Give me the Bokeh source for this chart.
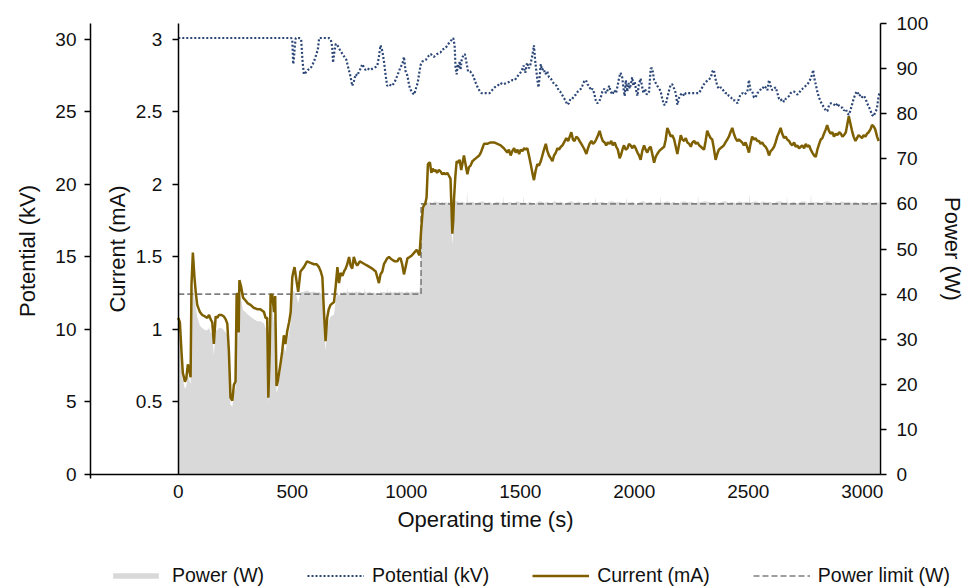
from bokeh.plotting import figure
from bokeh.models import (Range1d, LinearAxis, FixedTicker, Legend, LegendItem,
                          NumeralTickFormatter)
from bokeh.embed import file_html
from bokeh.resources import INLINE

# ---------------- data ----------------
x_ticks = [0, 500, 1000, 1500, 2000, 2500, 3000]
potential_ticks = [0, 5, 10, 15, 20, 25, 30]
current_ticks = [0.5, 1, 1.5, 2, 2.5, 3]
power_ticks = [0, 10, 20, 30, 40, 50, 60, 70, 80, 90, 100]

# (time s, current mA)
current_series = [
    (0, 1.08), (7, 1.05), (14, 0.85), (20, 0.70), (25, 0.67), (29, 0.64), (35, 0.66), (42, 0.76),
    (48, 0.72), (54, 0.67), (58, 1.31), (64, 1.53), (71, 1.36), (77, 1.25), (83, 1.17), (95, 1.12),
    (105, 1.10), (117, 1.09), (127, 1.08), (135, 1.10), (142, 1.07), (149, 1.05), (156, 0.90),
    (164, 1.09), (171, 1.08), (178, 1.10), (190, 1.10), (200, 1.09), (208, 1.07), (215, 1.04),
    (222, 0.85), (229, 0.53), (237, 0.51), (244, 0.62), (251, 0.64), (256, 1.24), (261, 1.25),
    (265, 0.98), (268, 1.34), (275, 1.30), (284, 1.22), (295, 1.20), (305, 1.18), (317, 1.17),
    (330, 1.15), (346, 1.14), (360, 1.14), (376, 1.12), (383, 1.08), (390, 1.08), (395, 0.53),
    (401, 0.85), (405, 1.24), (412, 1.24), (420, 1.12), (425, 1.23), (431, 0.61), (436, 0.64),
    (442, 0.70), (449, 0.77), (456, 0.85), (463, 0.96), (470, 0.90), (478, 0.99), (486, 1.05),
    (493, 1.12), (500, 1.36), (505, 1.40), (510, 1.43), (519, 1.33), (526, 1.26), (536, 1.40),
    (551, 1.43), (565, 1.47), (580, 1.46), (595, 1.45), (607, 1.45), (617, 1.43), (625, 1.40),
    (632, 1.36), (639, 1.12), (646, 0.92), (653, 1.08), (660, 1.14), (668, 1.17), (683, 1.19),
    (690, 1.29), (698, 1.43), (705, 1.32), (712, 1.39), (720, 1.37), (727, 1.40), (734, 1.42),
    (741, 1.45), (749, 1.50), (756, 1.44), (763, 1.42), (770, 1.50), (778, 1.46), (785, 1.44),
    (796, 1.47), (807, 1.46), (818, 1.45), (829, 1.44), (840, 1.43), (851, 1.42), (858, 1.41),
    (866, 1.40), (873, 1.36), (880, 1.32), (887, 1.38), (895, 1.40), (902, 1.45), (909, 1.47),
    (916, 1.49), (924, 1.50), (931, 1.49), (939, 1.48), (950, 1.47), (961, 1.47), (968, 1.49),
    (975, 1.49), (982, 1.45), (990, 1.38), (997, 1.43), (1005, 1.49), (1015, 1.50), (1024, 1.51),
    (1035, 1.53), (1046, 1.55), (1052, 1.53), (1058, 1.51), (1065, 1.68), (1073, 1.84),
    (1078, 1.86), (1082, 1.86), (1089, 1.91), (1095, 2.14), (1100, 2.15), (1104, 2.15),
    (1110, 2.08), (1116, 2.11), (1121, 2.09), (1128, 2.10), (1135, 2.08), (1143, 2.10),
    (1150, 2.09), (1158, 2.07), (1165, 2.08), (1172, 2.07), (1180, 2.08), (1187, 2.06),
    (1194, 2.04), (1198, 1.85), (1202, 1.66), (1206, 1.75), (1209, 1.89), (1215, 2.05),
    (1221, 2.16), (1228, 2.15), (1234, 2.17), (1241, 2.10), (1247, 2.15), (1253, 2.20),
    (1260, 2.14), (1268, 2.07), (1275, 2.12), (1282, 2.13), (1290, 2.16), (1297, 2.17),
    (1305, 2.18), (1312, 2.19), (1320, 2.20), (1327, 2.22), (1334, 2.25), (1341, 2.28),
    (1355, 2.28), (1370, 2.29), (1385, 2.29), (1400, 2.28), (1414, 2.27), (1428, 2.25),
    (1443, 2.22), (1450, 2.24), (1458, 2.20), (1465, 2.23), (1473, 2.25), (1480, 2.22),
    (1488, 2.24), (1495, 2.21), (1502, 2.24), (1510, 2.23), (1517, 2.25), (1524, 2.24),
    (1531, 2.25), (1538, 2.20), (1546, 2.14), (1553, 2.08), (1560, 2.03), (1568, 2.10),
    (1575, 2.14), (1582, 2.13), (1590, 2.16), (1597, 2.20), (1604, 2.24), (1612, 2.28),
    (1619, 2.23), (1626, 2.20), (1634, 2.18), (1641, 2.16), (1648, 2.20), (1656, 2.22),
    (1663, 2.25), (1670, 2.24), (1678, 2.26), (1685, 2.27), (1692, 2.29), (1702, 2.32),
    (1710, 2.30), (1717, 2.33), (1724, 2.36), (1731, 2.31), (1738, 2.30), (1746, 2.33),
    (1753, 2.32), (1760, 2.30), (1768, 2.28), (1775, 2.26), (1782, 2.24), (1790, 2.21),
    (1797, 2.25), (1804, 2.28), (1812, 2.30), (1819, 2.28), (1826, 2.29), (1833, 2.31),
    (1841, 2.34), (1848, 2.37), (1855, 2.33), (1862, 2.30), (1870, 2.29), (1877, 2.27),
    (1884, 2.29), (1892, 2.28), (1899, 2.30), (1906, 2.27), (1914, 2.29), (1921, 2.26),
    (1928, 2.24), (1936, 2.18), (1943, 2.21), (1950, 2.25), (1955, 2.27), (1962, 2.24),
    (1970, 2.25), (1977, 2.28), (1984, 2.27), (1992, 2.25), (1999, 2.27), (2006, 2.25),
    (2014, 2.22), (2021, 2.20), (2028, 2.17), (2035, 2.23), (2043, 2.27), (2050, 2.24),
    (2057, 2.22), (2065, 2.25), (2072, 2.26), (2079, 2.21), (2087, 2.15), (2094, 2.19),
    (2101, 2.21), (2109, 2.23), (2116, 2.24), (2123, 2.25), (2131, 2.26), (2138, 2.31),
    (2145, 2.39), (2153, 2.36), (2160, 2.33), (2167, 2.34), (2175, 2.31), (2182, 2.26),
    (2189, 2.21), (2197, 2.28), (2204, 2.34), (2211, 2.31), (2219, 2.30), (2226, 2.32),
    (2233, 2.29), (2241, 2.28), (2248, 2.26), (2255, 2.29), (2263, 2.30), (2270, 2.28),
    (2277, 2.29), (2285, 2.27), (2292, 2.26), (2299, 2.25), (2306, 2.24), (2313, 2.30),
    (2320, 2.37), (2328, 2.34), (2335, 2.32), (2342, 2.31), (2349, 2.25), (2357, 2.17),
    (2364, 2.21), (2371, 2.24), (2378, 2.25), (2386, 2.26), (2393, 2.27), (2400, 2.29),
    (2408, 2.31), (2415, 2.33), (2422, 2.36), (2430, 2.39), (2437, 2.35), (2444, 2.32),
    (2452, 2.30), (2459, 2.31), (2466, 2.30), (2473, 2.29), (2481, 2.27), (2488, 2.29),
    (2495, 2.26), (2503, 2.22), (2510, 2.28), (2517, 2.33), (2525, 2.31), (2532, 2.32),
    (2539, 2.30), (2547, 2.30), (2554, 2.28), (2561, 2.29), (2569, 2.27), (2576, 2.26),
    (2583, 2.24), (2591, 2.20), (2598, 2.23), (2605, 2.24), (2613, 2.26), (2620, 2.29),
    (2627, 2.33), (2635, 2.36), (2642, 2.39), (2649, 2.35), (2657, 2.32), (2664, 2.33),
    (2671, 2.31), (2679, 2.30), (2686, 2.28), (2693, 2.27), (2701, 2.29), (2708, 2.26),
    (2715, 2.27), (2723, 2.25), (2730, 2.26), (2737, 2.27), (2745, 2.25), (2752, 2.28),
    (2759, 2.26), (2767, 2.27), (2774, 2.24), (2781, 2.22), (2789, 2.20), (2796, 2.19),
    (2803, 2.24), (2811, 2.28), (2818, 2.31), (2825, 2.32), (2832, 2.35), (2840, 2.38),
    (2846, 2.41), (2854, 2.37), (2861, 2.35), (2869, 2.36), (2876, 2.33), (2884, 2.35),
    (2891, 2.34), (2899, 2.36), (2906, 2.35), (2913, 2.33), (2920, 2.34), (2928, 2.36),
    (2935, 2.42), (2941, 2.47), (2948, 2.42), (2955, 2.37), (2962, 2.33), (2970, 2.30),
    (2977, 2.32), (2984, 2.34), (2992, 2.33), (2999, 2.32), (3006, 2.34), (3014, 2.33),
    (3021, 2.35), (3028, 2.36), (3036, 2.38), (3043, 2.41), (3050, 2.40), (3057, 2.38),
    (3065, 2.33), (3072, 2.30),
]

# (time s, potential kV)
potential_series = [
    (0, 30.1), (100, 30.1), (200, 30.1), (300, 30.1), (400, 30.1), (495, 30.1), (500, 30.0),
    (504, 28.3), (507, 28.6), (511, 29.5), (515, 30.1), (530, 30.1), (539, 30.0), (545, 28.5),
    (551, 27.6), (558, 27.7), (568, 27.9), (580, 28.0), (590, 28.3), (598, 28.6), (604, 28.9),
    (612, 29.3), (618, 30.1), (634, 30.1), (660, 30.1), (669, 30.0), (675, 29.5), (679, 28.4),
    (685, 29.2), (691, 29.7), (698, 29.6), (708, 29.3), (720, 29.0), (737, 28.6), (748, 27.9),
    (756, 27.4), (763, 26.8), (770, 27.1), (778, 27.6), (785, 27.5), (793, 27.8), (800, 28.0),
    (807, 28.3), (814, 28.1), (821, 27.9), (829, 28.0), (843, 27.9), (853, 28.0), (866, 28.1),
    (873, 28.2), (880, 28.8), (887, 29.6), (895, 29.2), (902, 28.5), (909, 27.6), (916, 26.8),
    (924, 26.9), (938, 26.8), (950, 27.1), (958, 27.4), (968, 27.8), (975, 28.1), (983, 28.3),
    (990, 28.8), (997, 27.8), (1005, 27.5), (1013, 26.8), (1020, 26.5), (1028, 26.3),
    (1035, 26.2), (1042, 26.6), (1050, 27.0), (1058, 27.8), (1064, 28.3), (1072, 28.5),
    (1086, 28.6), (1100, 28.9), (1107, 29.0), (1121, 28.8), (1136, 29.0), (1150, 29.1),
    (1158, 29.3), (1172, 29.4), (1185, 29.7), (1195, 29.9), (1206, 30.1), (1212, 29.6),
    (1216, 28.1), (1221, 27.6), (1226, 28.3), (1230, 28.0), (1234, 28.5), (1238, 27.9),
    (1243, 28.6), (1250, 28.9), (1257, 29.0), (1264, 28.4), (1271, 27.8), (1280, 27.8),
    (1290, 27.6), (1298, 27.3), (1305, 27.0), (1313, 26.7), (1320, 26.5), (1330, 26.3),
    (1345, 26.3), (1356, 26.3), (1366, 26.3), (1376, 26.5), (1388, 26.7), (1400, 26.8),
    (1413, 27.0), (1425, 26.9), (1440, 27.0), (1455, 27.1), (1466, 27.2), (1476, 27.2),
    (1490, 27.5), (1505, 27.8), (1515, 28.2), (1522, 27.7), (1530, 28.4), (1538, 28.0),
    (1545, 28.3), (1553, 28.9), (1560, 29.6), (1565, 28.6), (1570, 27.9), (1575, 27.2),
    (1580, 26.7), (1586, 27.6), (1590, 28.3), (1595, 27.9), (1602, 28.0), (1610, 27.6),
    (1618, 27.8), (1626, 27.4), (1634, 27.3), (1641, 27.1), (1650, 26.9), (1660, 26.8),
    (1668, 26.5), (1675, 26.4), (1683, 26.2), (1690, 26.0), (1698, 25.8), (1706, 25.5),
    (1713, 25.6), (1720, 25.9), (1728, 25.9), (1736, 26.1), (1744, 26.2), (1752, 26.4),
    (1760, 26.5), (1766, 26.6), (1772, 26.8), (1780, 27.1), (1788, 27.2), (1795, 26.9),
    (1802, 26.8), (1810, 26.5), (1817, 26.6), (1824, 26.3), (1831, 25.8), (1838, 25.6),
    (1846, 25.7), (1853, 26.0), (1860, 26.4), (1868, 26.6), (1876, 26.3), (1883, 26.5),
    (1890, 26.8), (1897, 26.4), (1904, 26.2), (1912, 26.5), (1920, 26.3), (1927, 26.8),
    (1934, 27.4), (1940, 27.7), (1947, 27.4), (1953, 26.6), (1958, 26.1), (1963, 27.2),
    (1969, 26.4), (1975, 27.0), (1980, 26.6), (1985, 26.9), (1991, 27.4), (1996, 26.8),
    (2002, 27.1), (2008, 26.5), (2014, 26.1), (2020, 26.9), (2028, 27.3), (2035, 26.7),
    (2040, 26.3), (2047, 26.6), (2055, 26.2), (2065, 26.4), (2072, 28.0), (2079, 28.0),
    (2087, 27.2), (2094, 27.0), (2101, 26.8), (2110, 26.6), (2116, 26.4), (2123, 25.9),
    (2130, 25.5), (2138, 25.5), (2145, 26.0), (2153, 26.5), (2160, 26.9), (2167, 26.9),
    (2175, 26.6), (2182, 26.3), (2189, 25.5), (2197, 26.0), (2204, 26.2), (2211, 26.3),
    (2219, 26.1), (2226, 26.3), (2240, 26.3), (2255, 26.3), (2270, 26.3), (2284, 26.3),
    (2295, 26.6), (2305, 26.9), (2316, 27.1), (2327, 27.2), (2336, 27.4), (2343, 27.8),
    (2349, 27.9), (2356, 27.3), (2364, 26.8), (2371, 26.6), (2380, 26.7), (2390, 26.5),
    (2400, 26.3), (2408, 26.3), (2415, 26.1), (2424, 26.0), (2433, 25.8), (2440, 25.8),
    (2447, 25.7), (2453, 25.6), (2460, 26.0), (2467, 26.2), (2475, 26.3), (2482, 26.2),
    (2490, 26.3), (2496, 26.4), (2503, 27.2), (2510, 26.5), (2518, 26.4), (2525, 26.0),
    (2532, 26.0), (2540, 26.3), (2548, 26.4), (2556, 26.6), (2563, 26.6), (2569, 26.8),
    (2576, 26.7), (2584, 26.5), (2591, 27.2), (2598, 26.8), (2605, 26.5), (2613, 26.6),
    (2620, 26.7), (2628, 26.3), (2635, 25.9), (2642, 25.8), (2649, 25.9), (2657, 25.7),
    (2664, 25.9), (2672, 26.0), (2679, 26.1), (2686, 26.3), (2694, 26.4), (2701, 26.4),
    (2708, 26.3), (2716, 26.2), (2723, 26.3), (2730, 26.5), (2738, 26.6), (2745, 26.7),
    (2752, 26.8), (2760, 26.9), (2767, 27.1), (2774, 27.3), (2780, 27.6), (2785, 27.9),
    (2790, 27.3), (2796, 26.9), (2803, 26.4), (2810, 26.0), (2818, 25.7), (2825, 25.5),
    (2832, 25.3), (2840, 25.1), (2847, 25.05), (2855, 25.5), (2862, 25.6), (2870, 25.6),
    (2877, 25.5), (2884, 25.4), (2891, 25.6), (2899, 25.4), (2906, 25.3), (2913, 25.3),
    (2920, 25.1), (2928, 25.2), (2935, 24.9), (2941, 24.8), (2948, 25.1), (2955, 25.5),
    (2962, 25.9), (2969, 26.2), (2975, 26.4), (2979, 26.4), (2986, 26.1), (2993, 26.2),
    (3000, 26.0), (3008, 26.1), (3015, 25.9), (3021, 25.6), (3028, 25.4), (3036, 25.1),
    (3043, 24.8), (3050, 24.7), (3057, 25.0), (3064, 25.2), (3070, 25.9), (3075, 26.3),
]

# (time s, power W)
power_series = [
    (0, 31), (7, 31), (14, 25), (20, 21), (25, 20), (29, 19), (35, 19.5), (42, 22), (48, 21),
    (54, 20), (58, 38), (64, 42), (71, 39), (77, 37), (83, 35), (95, 33), (105, 32.5), (117, 32),
    (127, 32), (135, 32.5), (142, 31.5), (149, 31), (156, 26.5), (164, 32), (171, 32),
    (178, 32.5), (190, 32.5), (200, 32), (208, 31.5), (215, 31), (222, 25), (229, 15.5),
    (237, 15), (244, 18), (251, 19), (256, 37), (261, 37.5), (265, 29), (268, 40), (275, 39),
    (284, 36.5), (295, 36), (305, 35.5), (317, 35), (330, 34.5), (346, 34), (360, 34),
    (376, 33.5), (383, 32.5), (390, 32.5), (395, 15.5), (401, 25), (405, 37), (412, 37),
    (420, 33.5), (425, 37), (431, 18), (436, 19), (442, 21), (449, 23), (456, 25.5), (463, 28.5),
    (470, 27), (478, 29.5), (486, 31.5), (493, 33.5), (500, 40), (505, 40.8), (510, 40.4),
    (519, 39.5), (526, 38), (536, 40.4), (551, 40.5), (565, 40.8), (580, 40.4), (595, 40.6),
    (607, 40.3), (617, 40.5), (625, 40.2), (632, 40), (639, 33.5), (646, 27.5), (653, 32),
    (660, 34), (668, 35), (683, 35.5), (690, 38.5), (698, 40.6), (705, 39.5), (712, 40.4),
    (720, 40.2), (727, 40.6), (734, 40.3), (739, 40.4), (741, 41.5), (743, 40.4), (749, 40.5),
    (756, 40.3), (763, 40.6), (770, 40.3), (778, 40.6), (785, 40.4), (796, 40.6), (807, 40.2),
    (816, 40.4), (818, 41.4), (820, 40.4), (829, 40.3), (840, 40.5), (851, 40.2), (858, 40.4),
    (866, 40.1), (873, 40.3), (880, 39.5), (887, 40.6), (895, 40.3), (902, 40.6), (909, 40.3),
    (914, 40.4), (916, 41.6), (918, 40.4), (924, 40.4), (931, 40.6), (939, 40.3), (950, 40.5),
    (961, 40.3), (968, 40.6), (975, 40.4), (982, 40.6), (990, 40.2), (997, 40.5),
    (1005, 40.6), (1015, 40.3), (1024, 40.5), (1035, 40.4), (1046, 40.6), (1052, 40.4),
    (1058, 40.6), (1062, 45), (1066, 52), (1070, 58), (1075, 60.3), (1082, 60.3), (1088, 60.4),
    (1090, 61.8), (1092, 60.4), (1098, 60.2), (1105, 60.5), (1112, 60.1), (1120, 60.4),
    (1128, 60.6), (1135, 60.3), (1143, 60.5), (1150, 60.1), (1158, 60.5), (1165, 60.2),
    (1172, 60.4), (1180, 60.2), (1187, 60.5), (1194, 59.5), (1198, 55), (1202, 51), (1206, 54),
    (1209, 58), (1214, 61.0), (1218, 60.5), (1225, 60.6), (1232, 60.3), (1245, 60.5),
    (1258, 60.2), (1265, 60.3), (1267, 62.8), (1269, 60.3), (1290, 60.5), (1305, 60.1),
    (1320, 60.4), (1335, 60.6), (1350, 60.2), (1365, 60.4), (1380, 60.0), (1395, 60.5),
    (1410, 60.3), (1423, 60.2), (1425, 61.8), (1427, 60.3), (1440, 60.2), (1455, 60.5),
    (1470, 60.1), (1485, 60.6), (1500, 60.3), (1513, 60.2), (1515, 62.0), (1517, 60.3),
    (1530, 60.2), (1545, 60.5), (1560, 59.6), (1575, 60.4), (1590, 60.6), (1605, 60.2),
    (1620, 60.5), (1635, 60.1), (1650, 60.6), (1665, 60.3), (1680, 60.5), (1695, 60.0),
    (1710, 60.4), (1725, 60.6), (1740, 60.2), (1755, 60.5), (1770, 60.3), (1785, 59.8),
    (1800, 60.5), (1815, 60.2), (1828, 60.3), (1830, 61.6), (1832, 60.3), (1845, 60.3),
    (1860, 60.5), (1875, 60.1), (1890, 60.5), (1905, 60.6), (1920, 60.3), (1935, 60.5),
    (1950, 60.2), (1963, 60.3), (1965, 61.5), (1967, 60.3), (1980, 60.3), (1995, 60.5),
    (2010, 59.8), (2025, 60.4), (2040, 60.6), (2055, 60.2), (2070, 60.5), (2085, 60.1),
    (2100, 60.4), (2113, 60.3), (2115, 61.9), (2117, 60.3), (2130, 60.3), (2145, 60.6),
    (2160, 60.2), (2175, 60.5), (2190, 59.8), (2205, 60.4), (2220, 60.6), (2235, 60.3),
    (2250, 60.5), (2265, 60.2), (2278, 60.3), (2280, 62.0), (2282, 60.3), (2295, 60.4),
    (2310, 60.6), (2325, 60.5), (2340, 60.3), (2355, 60.5), (2370, 60.1), (2385, 60.5),
    (2400, 60.6), (2415, 60.2), (2430, 60.5), (2445, 60.1), (2460, 60.6), (2475, 60.3),
    (2490, 60.5), (2503, 60.3), (2505, 62.2), (2507, 60.3), (2520, 60.4), (2535, 60.6),
    (2550, 60.2), (2565, 60.6), (2580, 60.3), (2595, 60.5), (2610, 60.1), (2625, 60.5),
    (2640, 60.6), (2655, 60.3), (2668, 60.3), (2670, 61.8), (2672, 60.3), (2685, 60.2),
    (2700, 60.5), (2715, 60.1), (2730, 60.5), (2745, 60.6), (2760, 60.2), (2773, 60.3),
    (2775, 62.3), (2777, 60.3), (2790, 60.3), (2805, 60.5), (2820, 60.1), (2835, 60.5),
    (2850, 60.6), (2865, 60.2), (2880, 60.5), (2895, 60.1), (2910, 60.6), (2925, 60.3),
    (2940, 60.5), (2955, 60.2), (2970, 60.5), (2985, 60.1), (3000, 60.5), (3015, 60.2),
    (3030, 60.5), (3045, 60.1), (3060, 60.4), (3075, 60.2),
]

# (time s, power limit W)
limit_series = [(0, 40), (1065, 40), (1065, 60), (3080, 60)]

current_time = [t for t, _ in current_series]
current_mA = [v for _, v in current_series]
potential_time = [t for t, _ in potential_series]
potential_kV = [v for _, v in potential_series]
power_time = [t for t, _ in power_series]
power_W = [v for _, v in power_series]
limit_time = [t for t, _ in limit_series]
limit_W = [v for _, v in limit_series]

# ---------------- styles ----------------
FONT = "Liberation Sans"
TXT = "#111111"
TICK_FS = "19px"
LABEL_FS = "22px"

# The frame covers the whole canvas so that nothing (axes drawn at fixed
# locations, the legend) is clipped. The visible chart area is x in [-385, 3080]
# (pixels 90..880) and y from 0 (pixel 474) to the top of each scale (pixel 23).
X_MIN, X_MAX = -385, 3080
P_TOP, V_TOP, I_TOP = 100, 31.1, 3.11
VIS_W, LEFT_EXTRA, RIGHT_EXTRA = 790, 90, 88
VIS_H, TOP_EXTRA, BOTTOM_EXTRA = 451, 23, 114
sx = (X_MAX - X_MIN) / VIS_W
bpad = BOTTOM_EXTRA / VIS_H
tpad = TOP_EXTRA / VIS_H

p = figure(width=968, height=588, output_backend="svg", toolbar_location=None,
           x_range=Range1d(X_MIN - LEFT_EXTRA * sx, X_MAX + RIGHT_EXTRA * sx),
           y_range=Range1d(-P_TOP * bpad, P_TOP * (1 + tpad)),
           x_axis_location=None, y_axis_location=None,
           min_border_left=0, min_border_right=0, min_border_top=0, min_border_bottom=0,
           background_fill_color="white", border_fill_color="white")
p.outline_line_color = None
p.grid.visible = False
p.extra_y_ranges = {"potential": Range1d(-V_TOP * bpad, V_TOP * (1 + tpad)),
                    "current": Range1d(-I_TOP * bpad, I_TOP * (1 + tpad))}


def style_axis(ax, tick_out=6, label_standoff=8, axis_label_standoff=10):
    ax.axis_line_color = "black"
    ax.axis_line_width = 1.5
    ax.major_tick_line_color = "black"
    ax.major_tick_line_width = 1.5
    ax.major_tick_out = tick_out
    ax.major_tick_in = 0
    ax.minor_tick_line_color = None
    ax.major_label_text_font = FONT
    ax.major_label_text_font_size = TICK_FS
    ax.major_label_text_color = TXT
    ax.major_label_standoff = label_standoff
    ax.axis_label_text_font = FONT
    ax.axis_label_text_font_size = LABEL_FS
    ax.axis_label_text_font_style = "normal"
    ax.axis_label_text_color = TXT
    ax.axis_label_standoff = axis_label_standoff


xaxis = LinearAxis(ticker=FixedTicker(ticks=x_ticks), axis_label="Operating time (s)",
                   fixed_location=0, bounds=(X_MIN, X_MAX))
style_axis(xaxis, tick_out=0, label_standoff=10, axis_label_standoff=6)
xaxis.major_tick_line_color = None
p.add_layout(xaxis, "below")

pot_axis = LinearAxis(y_range_name="potential", ticker=FixedTicker(ticks=potential_ticks),
                      axis_label="Potential (kV)", fixed_location=X_MIN, bounds=(-0.3, V_TOP))
style_axis(pot_axis, label_standoff=8, axis_label_standoff=12)
p.add_layout(pot_axis, "left")

cur_axis = LinearAxis(y_range_name="current", ticker=FixedTicker(ticks=current_ticks),
                      axis_label="Current (mA)", fixed_location=0, bounds=(0, I_TOP),
                      formatter=NumeralTickFormatter(format="0.[0]"))
style_axis(cur_axis, label_standoff=10, axis_label_standoff=3)
p.add_layout(cur_axis, "left")

pow_axis = LinearAxis(ticker=FixedTicker(ticks=power_ticks), axis_label="Power (W)",
                      fixed_location=X_MAX, bounds=(0, P_TOP))
style_axis(pow_axis, label_standoff=10, axis_label_standoff=9)
p.add_layout(pow_axis, "right")

# ---------------- glyphs ----------------
r_power = p.varea(x=power_time, y1=0, y2=power_W, fill_color="#D9D9D9")
r_limit = p.line(limit_time, limit_W, line_color="#808080", line_width=1.6, line_dash="6 3")
r_current = p.line(current_time, current_mA, y_range_name="current",
                   line_color="#7F6000", line_width=2.5)
r_potential = p.line(potential_time, potential_kV, y_range_name="potential",
                     line_color="#2B4677", line_width=2.2, line_dash="2 2")

legend = Legend(items=[
    LegendItem(label="Power (W)", renderers=[r_power]),
    LegendItem(label="Potential (kV)", renderers=[r_potential]),
    LegendItem(label="Current (mA)", renderers=[r_current]),
    LegendItem(label="Power limit (W)", renderers=[r_limit]),
], orientation="horizontal", location=(LEFT_EXTRA + 17, 1))
legend.border_line_color = None
legend.background_fill_alpha = 0
legend.padding = 0
legend.margin = 0
legend.spacing = 43
legend.glyph_width = 57
legend.glyph_height = 7
legend.label_standoff = 8
legend.label_height = 20
legend.label_text_font = FONT
legend.label_text_font_size = "19.5px"
legend.label_text_color = TXT
p.add_layout(legend, "center")

open("out.html", "w").write(file_html(p, INLINE))
